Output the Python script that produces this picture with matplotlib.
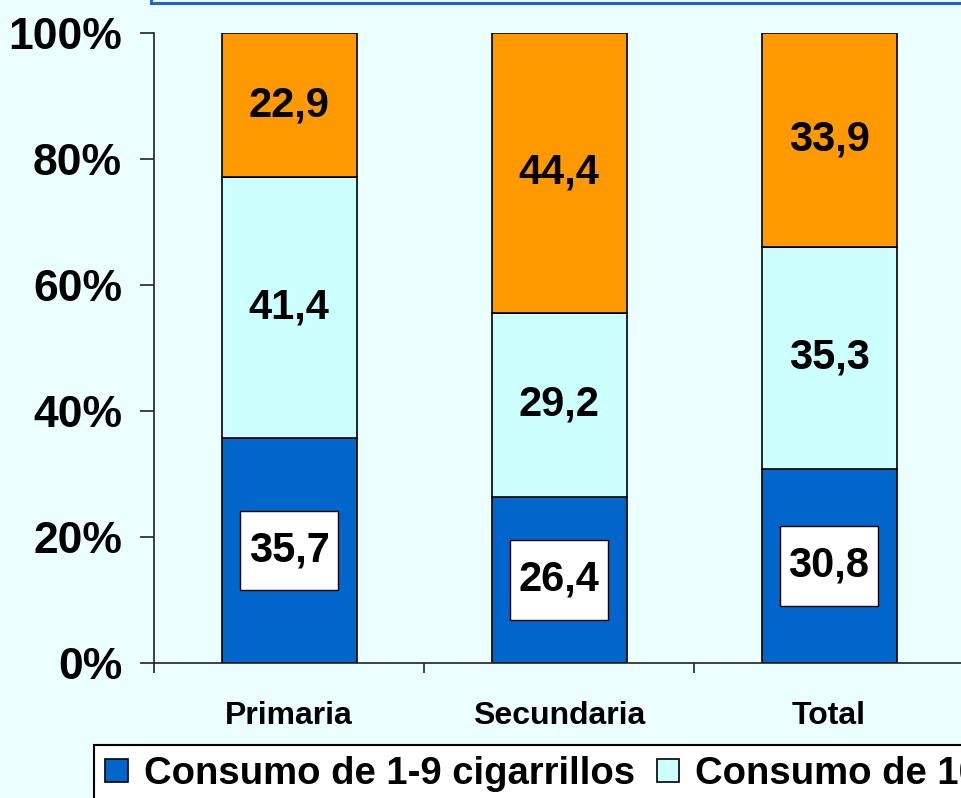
import matplotlib
matplotlib.use("Agg")
import matplotlib.pyplot as plt
from matplotlib.patches import Rectangle
from matplotlib.ticker import FixedLocator, FuncFormatter
import numpy as np

plt.rcParams['font.family'] = ['Liberation Sans', 'DejaVu Sans']
plt.rcParams['font.weight'] = 'bold'

categories = ["Primaria", "Secundaria", "Total"]
series_names = ["Consumo de 1-9 cigarrillos",
                "Consumo de 10-19 cigarrillos",
                "Consumo de 20 y más cigarrillos"]
s_low = [35.7, 26.4, 30.8]
s_mid = [41.4, 29.2, 35.3]
s_high = [22.9, 44.4, 33.9]
value_labels_low = ["35,7", "26,4", "30,8"]
value_labels_mid = ["41,4", "29,2", "35,3"]
value_labels_high = ["22,9", "44,4", "33,9"]
y_ticks = [0, 20, 40, 60, 80, 100]

colors = ["#0066CC", "#CCFFFF", "#FF9900"]
bg = "#EBFFFF"

W, H = 961, 798
fig = plt.figure(figsize=(W / 100, H / 100), dpi=100, facecolor=bg)

# title box border at top
fig.patches.append(Rectangle((151 / W, 1 - 3 / H), 1.0, 0.2, transform=fig.transFigure,
                             facecolor=bg, edgecolor="#1F66D1", linewidth=2.2, zorder=0))

ax = fig.add_axes([154 / W, 1 - 663 / H, 810 / W, 630 / H])
ax.set_facecolor(bg)

x = np.arange(len(categories))
bw = 0.5
series = [s_low, s_mid, s_high]
labels = [value_labels_low, value_labels_mid, value_labels_high]
bottom = np.zeros(len(categories))
for k, (vals, col, name) in enumerate(zip(series, colors, series_names)):
    vals = np.array(vals)
    ax.bar(x, vals, bw, bottom=bottom, color=col, edgecolor="black",
           linewidth=1.2, label=name, zorder=2)
    for i in range(len(categories)):
        cy = bottom[i] + vals[i] / 2
        if k == 0:
            ax.add_patch(Rectangle((x[i] - 0.183, cy - 6.3), 0.366, 12.6,
                                   facecolor="white", edgecolor="black",
                                   linewidth=1.0, zorder=3))
        ax.text(x[i], cy, labels[k][i], ha="center", va="center",
                fontsize=30, fontweight="bold", color="black", zorder=4)
    bottom = bottom + vals

ax.set_xlim(-0.5, 2.5)
ax.set_ylim(0, 100)
for s in ["top", "right"]:
    ax.spines[s].set_visible(False)
for s in ["left", "bottom"]:
    ax.spines[s].set_linewidth(1.2)
    ax.spines[s].set_color("#222222")

ax.set_yticks(y_ticks)
ax.yaxis.set_major_formatter(FuncFormatter(lambda v, p: f"{int(v)}%"))
ax.tick_params(axis="y", direction="out", length=10, width=1.2, pad=13,
               labelsize=32, color="#222222")
for t in ax.get_yticklabels():
    t.set_fontweight("bold")

ax.set_xticks(x)
ax.set_xticklabels(categories, fontsize=23, fontweight="bold")
ax.tick_params(axis="x", which="major", length=0, pad=27)
ax.xaxis.set_minor_locator(FixedLocator([-0.5, 0.5, 1.5, 2.5]))
ax.tick_params(axis="x", which="minor", direction="out", length=7.5, width=1.2,
               color="#222222")

h, l = ax.get_legend_handles_labels()
leg = fig.legend(h, l, loc="upper left", bbox_to_anchor=(94 / W, 1 - 745 / H),
                 ncol=3, prop={"size": 27.5, "weight": "bold"}, frameon=True,
                 fancybox=False, edgecolor="black", facecolor="white", framealpha=1,
                 borderaxespad=0, borderpad=0.3, handlelength=0.58, handleheight=0.55,
                 handletextpad=0.42, columnspacing=0.58)
leg.get_frame().set_linewidth(1.5)
for p in leg.get_patches():
    p.set_linewidth(1.2)

fig.savefig("out.png", dpi=100, facecolor=bg)
